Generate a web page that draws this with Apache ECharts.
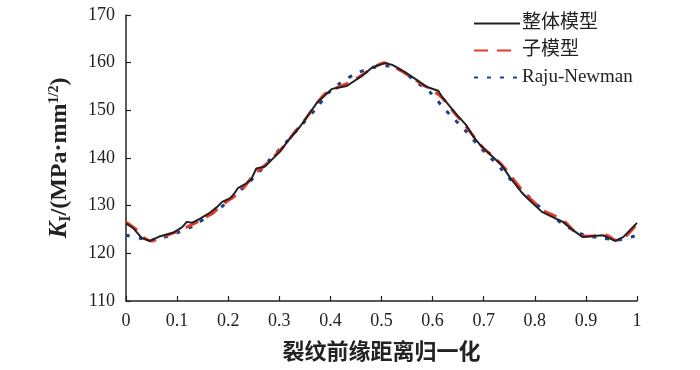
<!DOCTYPE html>
<html><head><meta charset="utf-8">
<script src="https://cdn.jsdelivr.net/npm/echarts@6/dist/echarts.min.js"></script>
<style>html,body{margin:0;padding:0;background:#fff}#c{width:700px;height:370px}</style>
</head><body><div id="c"></div>
<script>
const seriesNames = ['整体模型', '子模型', 'Raju-Newman'];
const xTicks = [0, 0.1, 0.2, 0.3, 0.4, 0.5, 0.6, 0.7, 0.8, 0.9, 1];
const yTicks = [110, 120, 130, 140, 150, 160, 170];
const wholeModel = [[0,126.3],[0.015,125.2],[0.031,123.2],[0.047,122.6],[0.067,123.6],[0.092,124.3],[0.11,125.5],[0.119,126.6],[0.129,126.4],[0.145,127.3],[0.164,128.5],[0.178,129.7],[0.188,130.8],[0.204,131.6],[0.213,132.7],[0.219,133.7],[0.233,134.5],[0.245,135.5],[0.255,137.8],[0.272,138.2],[0.285,139.6],[0.301,141.3],[0.32,144],[0.34,146.5],[0.36,149.5],[0.373,151.5],[0.39,153.2],[0.403,154.5],[0.432,155.1],[0.464,157.4],[0.483,159.1],[0.507,159.9],[0.522,159.5],[0.546,158],[0.569,156.4],[0.589,154.9],[0.611,154.1],[0.62,152.6],[0.648,149],[0.665,147],[0.679,144.6],[0.695,142.5],[0.718,140.2],[0.735,138.5],[0.751,136],[0.775,132.7],[0.785,131.6],[0.814,128.7],[0.835,127.6],[0.855,126.6],[0.869,125.3],[0.894,123.4],[0.91,123.6],[0.933,123.8],[0.945,123.2],[0.957,122.6],[0.973,123.4],[1,126.4]];
const subModel = [[0,126.6],[0.02,125],[0.035,123.3],[0.05,122.6],[0.065,123.2],[0.085,124],[0.105,124.8],[0.125,125.8],[0.15,127.2],[0.17,128.5],[0.19,130.3],[0.21,131.8],[0.23,133.7],[0.25,136.5],[0.27,138.3],[0.29,140.4],[0.31,142.6],[0.33,145.4],[0.35,148],[0.37,151],[0.39,153.5],[0.41,154.6],[0.43,155.5],[0.45,156.6],[0.47,158],[0.49,159.3],[0.505,160],[0.52,159.3],[0.54,158.2],[0.56,156.8],[0.58,155.4],[0.6,154.2],[0.62,152.5],[0.64,149.8],[0.66,147.3],[0.68,144.6],[0.7,142],[0.72,140.2],[0.74,138],[0.76,135.3],[0.78,132.6],[0.8,130.6],[0.82,128.8],[0.84,127.8],[0.86,126.5],[0.88,124.4],[0.9,123.6],[0.92,123.7],[0.94,123.8],[0.96,122.7],[0.98,123.8],[1,126.2]];
const rajuNewman = [[0,123.8],[0.03,123.1],[0.05,122.8],[0.07,123.2],[0.1,124.3],[0.129,125.6],[0.158,127.6],[0.184,129.5],[0.209,131.8],[0.233,134.1],[0.26,137],[0.28,139.5],[0.305,142.3],[0.34,146.5],[0.373,150.5],[0.395,153.5],[0.419,155.7],[0.452,157.8],[0.485,159],[0.517,159.3],[0.546,157.8],[0.57,155.8],[0.595,153.8],[0.62,150.7],[0.64,148.4],[0.663,145.9],[0.689,142.7],[0.712,140.2],[0.736,137.5],[0.757,135],[0.785,132.2],[0.81,129.7],[0.836,127.6],[0.865,125.5],[0.898,123.8],[0.932,123.2],[0.963,122.8],[1,123.8]];

const chart = echarts.init(document.getElementById('c'), null, {renderer: 'canvas'});
const serif = '"Liberation Serif","DejaVu Serif",serif';
const axisCommon = {
  axisLine: {show: true, lineStyle: {color: '#222', width: 1.5}},
  axisTick: {show: true, inside: true, length: 5, lineStyle: {color: '#222', width: 1.2}},
  splitLine: {show: false},
  axisLabel: {color: '#222', fontFamily: serif, fontSize: 18}
};
chart.setOption({
  animation: false,
  grid: {left: 126, right: 63, top: 15, bottom: 69, containLabel: false},
  legend: {
    orient: 'vertical', left: 468, top: 9, itemWidth: 46, itemHeight: 12, itemGap: 8,
    itemStyle: {opacity: 0},
    textStyle: {color: '#222', fontSize: 19, fontFamily: '"Liberation Serif","Noto Sans CJK SC",serif', padding: [0,0,0,-3]},
    data: seriesNames
  },
  xAxis: Object.assign({}, axisCommon, {
    type: 'value', min: xTicks[0], max: xTicks[xTicks.length-1], interval: 0.1,
    axisLabel: Object.assign({}, axisCommon.axisLabel, {margin: 11, formatter: v => String(+v.toFixed(1))}),
    name: '裂纹前缘距离归一化', nameLocation: 'middle', nameGap: 39,
    nameTextStyle: {color: '#222', fontSize: 22, fontWeight: 'bold', fontFamily: '"Noto Sans CJK SC"'}
  }),
  yAxis: Object.assign({}, axisCommon, {
    type: 'value', min: yTicks[0], max: yTicks[yTicks.length-1], interval: 10,
    axisLabel: Object.assign({}, axisCommon.axisLabel, {margin: 11}),
    name: '{k|K}{s|I}{t|/(MPa·mm}{p|1/2}{t|)}', nameLocation: 'middle', nameGap: 52, nameRotate: 90,
    nameTextStyle: {
      color: '#222', fontFamily: serif, fontSize: 24, fontWeight: 'bold',
      rich: {
        k: {fontFamily: serif, fontSize: 25, fontWeight: 'bold', fontStyle: 'italic', color: '#222'},
        s: {fontFamily: serif, fontSize: 16, fontWeight: 'bold', color: '#222', padding: [12,0,0,0]},
        t: {fontFamily: serif, fontSize: 24, fontWeight: 'bold', color: '#222'},
        p: {fontFamily: serif, fontSize: 14, fontWeight: 'bold', color: '#222', padding: [0,0,12,0]}
      }
    }
  }),
  series: [
    {name: seriesNames[0], type: 'line', data: wholeModel, symbol: 'none', smooth: false,
     lineStyle: {color: '#222', width: 2}, itemStyle: {color: '#222'}, z: 3},
    {name: seriesNames[1], type: 'line', data: subModel, symbol: 'none', smooth: 0.3,
     lineStyle: {color: '#e8392b', width: 3, type: [14, 9]}, itemStyle: {color: '#e8392b'}, z: 2},
    {name: seriesNames[2], type: 'line', data: rajuNewman, symbol: 'none', smooth: 0.3,
     lineStyle: {color: '#1f3f8f', width: 3, type: [4, 9]}, itemStyle: {color: '#1f3f8f'}, z: 1}
  ]
});
</script></body></html>
